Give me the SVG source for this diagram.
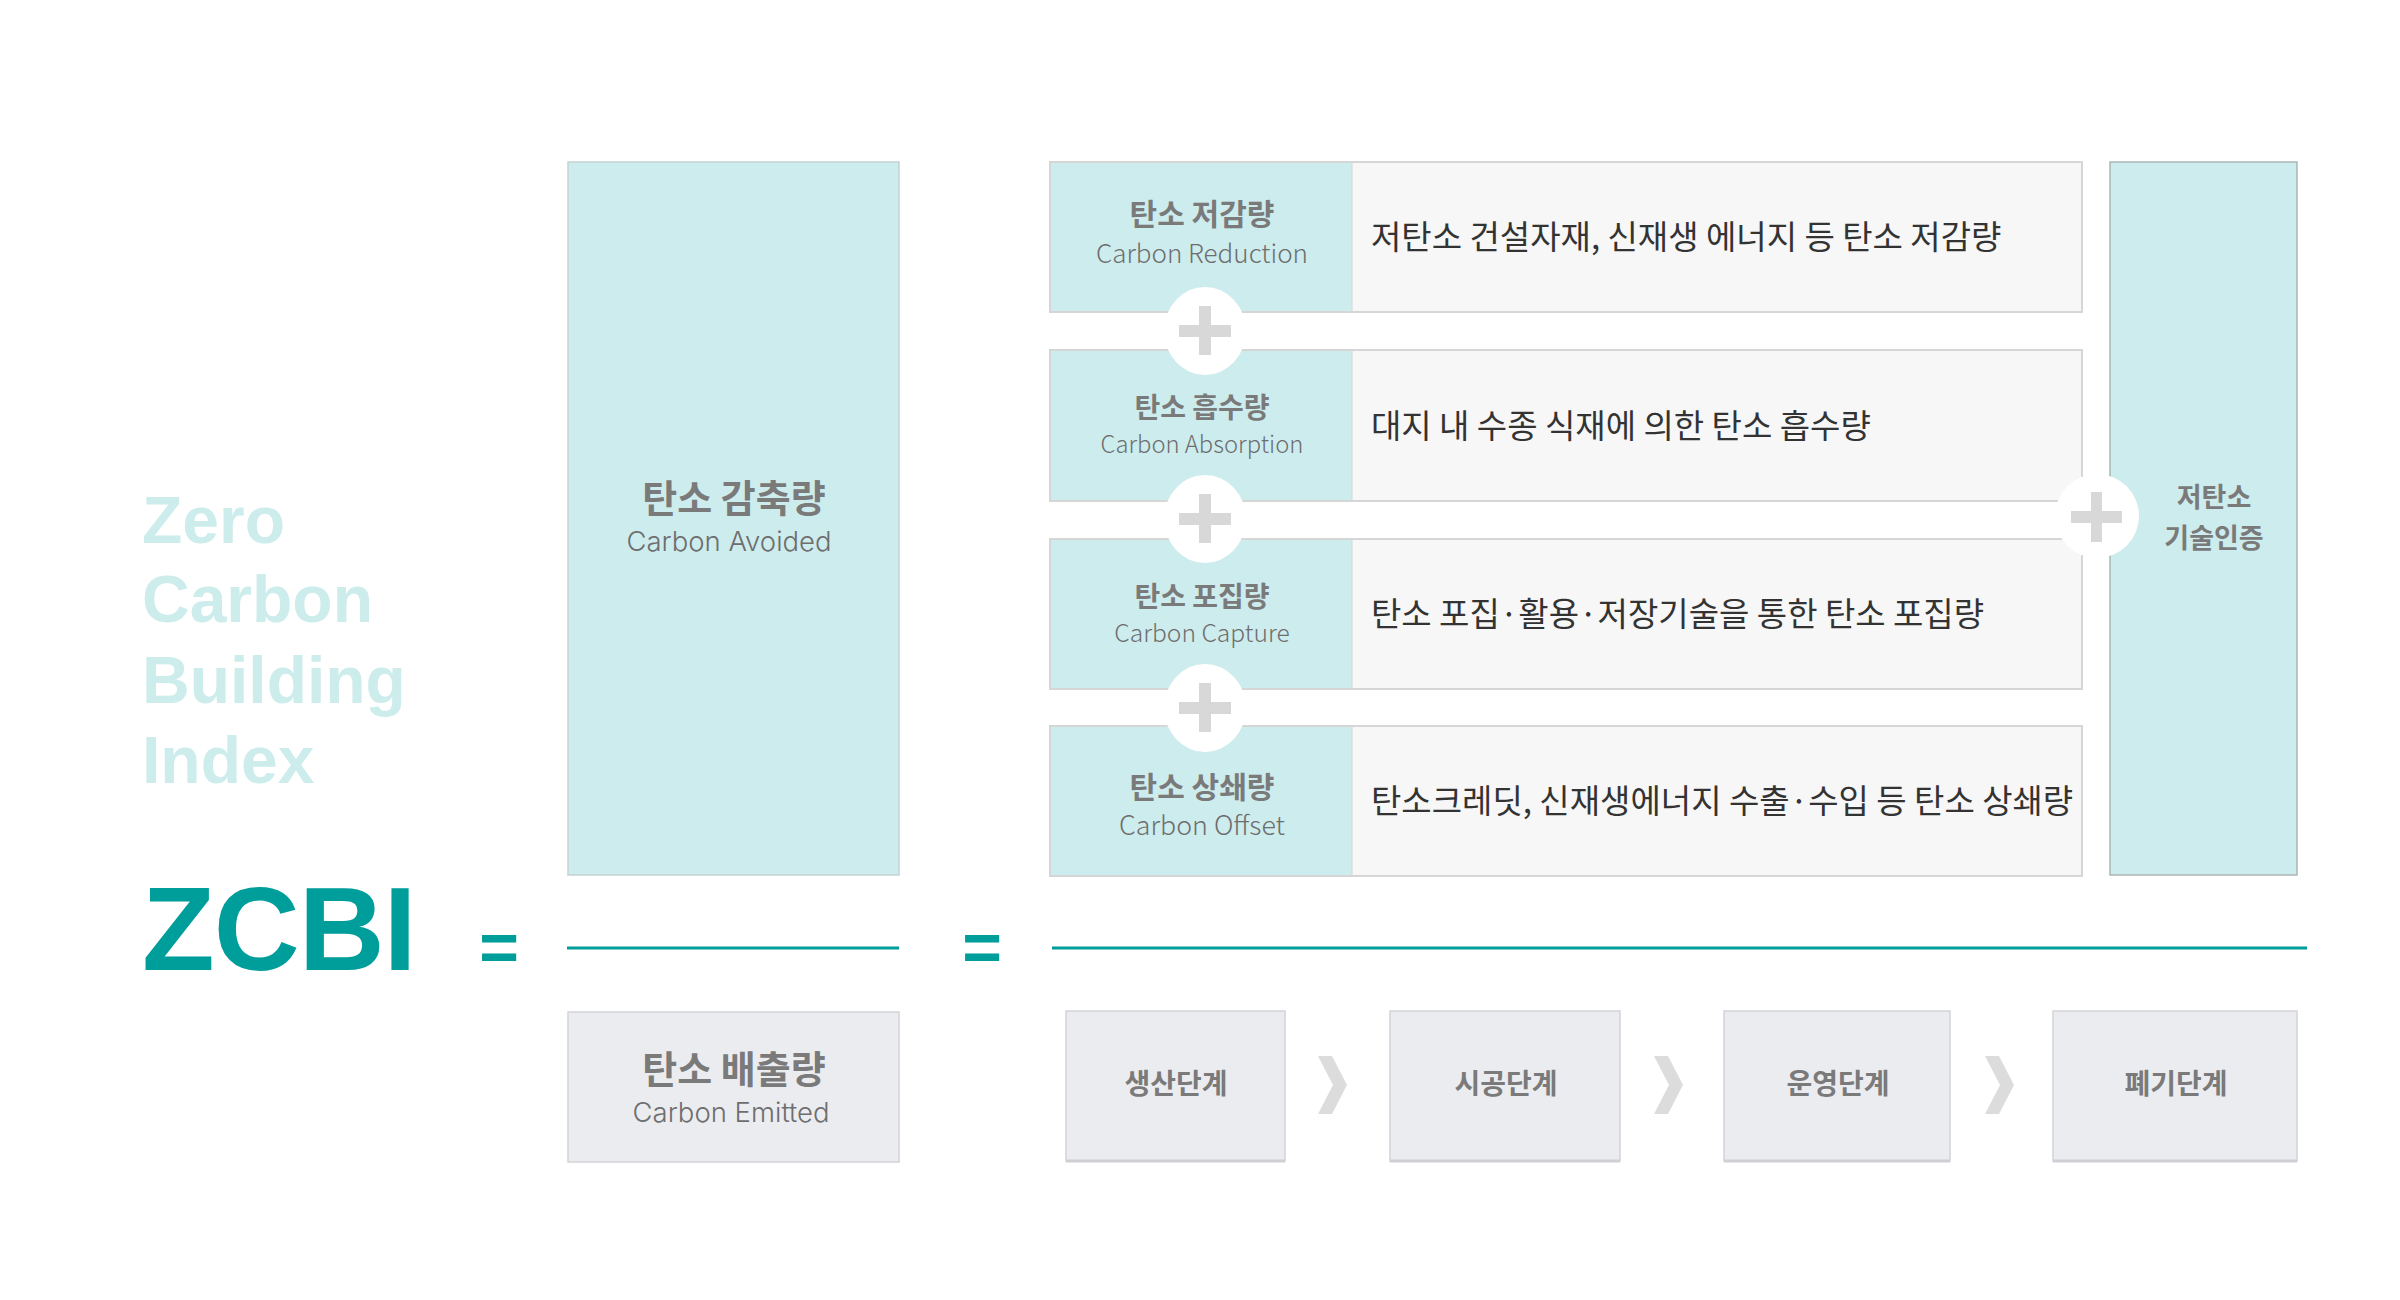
<svg xmlns="http://www.w3.org/2000/svg" width="2400" height="1300" viewBox="0 0 2400 1300">
  <defs>
    <style>
      .bg { fill: #ffffff; }
      .teal { fill: #cdeced; stroke: #c3d3d3; stroke-width: 1.5; }
      .tealcell { fill: #cdeced; }
      .desccell { fill: #f7f7f7; }
      .rowframe { fill: none; stroke: #d6d6d6; stroke-width: 2; }
      .stage { fill: #ebecf0; stroke: #d3d4d9; stroke-width: 1.5; }
      .stageshadow { stroke: #cfd0d5; stroke-width: 3; }
      .frac { stroke: #009e9a; stroke-width: 3; }
      .plusbg { fill: #ffffff; }
      .plus { fill: #d8d8d8; }
      .chev { fill: #dcdcdc; }
      .title { font-family: "Liberation Sans", Arial, sans-serif; font-weight: 700; fill: #cdecec; font-size: 66px; }
      .zcbi { font-family: "Liberation Sans", Arial, sans-serif; font-weight: 700; fill: #009e9a; font-size: 119px; letter-spacing: -1px; }
      .eq { font-family: "Liberation Sans", Arial, sans-serif; font-weight: 700; fill: #009e9a; font-size: 68px; text-anchor: middle; }
      .kb { font-family: "Noto Sans CJK KR", "Noto Sans KR", sans-serif; font-weight: 700; fill: #7a7a7a; text-anchor: middle; }
      .en { font-family: Inter, "Noto Sans", sans-serif; font-weight: 300; fill: #6e6e6e; text-anchor: middle; }
      .enr { font-family: "Noto Sans CJK KR", "Noto Sans KR", sans-serif; font-weight: 300; fill: #6e6e6e; text-anchor: middle; }
      .desc { font-family: "Noto Sans CJK KR", "Noto Sans KR", sans-serif; font-weight: 400; fill: #333333; font-size: 33px; }
    </style>
  </defs>
  <rect class="bg" x="0" y="0" width="2400" height="1300"/>

  <g id="title">
    <text class="title" x="142" y="543">Zero</text>
    <text class="title" x="142" y="622">Carbon</text>
    <text class="title" x="142" y="703">Building</text>
    <text class="title" x="142" y="783">Index</text>
  </g>

  <g id="zcbi">
    <text class="zcbi" x="142" y="970">ZCBI</text>
  </g>

  <g id="eq1"><text class="eq" x="499" y="971">=</text></g>
  <g id="eq2"><text class="eq" x="982" y="971">=</text></g>

  <g id="carbon-avoided">
    <rect class="teal" x="568" y="162" width="331" height="713"/>
    <text class="kb" x="734" y="512" font-size="38">탄소 감축량</text>
    <text class="en" x="729" y="551" font-size="27.5">Carbon Avoided</text>
  </g>

  <g id="carbon-emitted">
    <rect class="stage" x="568" y="1012" width="331" height="150"/>
    <text class="kb" x="734" y="1083" font-size="38">탄소 배출량</text>
    <text class="en" x="731" y="1122" font-size="27.5">Carbon Emitted</text>
  </g>

  <g id="row-reduction">
    <rect class="tealcell" x="1050" y="162" width="302" height="150"/>
    <rect class="desccell" x="1352" y="162" width="730" height="150"/>
    <rect class="rowframe" x="1050" y="162" width="1032" height="150"/>
    <line x1="1352" y1="162" x2="1352" y2="312" stroke="#d6d6d6" stroke-width="1"/>
    <text class="kb" x="1202" y="225" font-size="30">탄소 저감량</text>
    <text class="enr" x="1202" y="263" font-size="26">Carbon Reduction</text>
    <text class="desc" x="1371" y="249">저탄소 건설자재, 신재생 에너지 등 탄소 저감량</text>
  </g>

  <g id="row-absorption">
    <rect class="tealcell" x="1050" y="350" width="302" height="151"/>
    <rect class="desccell" x="1352" y="350" width="730" height="151"/>
    <rect class="rowframe" x="1050" y="350" width="1032" height="151"/>
    <line x1="1352" y1="350" x2="1352" y2="501" stroke="#d6d6d6" stroke-width="1"/>
    <text class="kb" x="1202" y="418" font-size="28">탄소 흡수량</text>
    <text class="enr" x="1202" y="453" font-size="23.8">Carbon Absorption</text>
    <text class="desc" x="1371" y="438">대지 내 수종 식재에 의한 탄소 흡수량</text>
  </g>

  <g id="row-capture">
    <rect class="tealcell" x="1050" y="539" width="302" height="150"/>
    <rect class="desccell" x="1352" y="539" width="730" height="150"/>
    <rect class="rowframe" x="1050" y="539" width="1032" height="150"/>
    <line x1="1352" y1="539" x2="1352" y2="689" stroke="#d6d6d6" stroke-width="1"/>
    <text class="kb" x="1202" y="607" font-size="28">탄소 포집량</text>
    <text class="enr" x="1202" y="642" font-size="24.6">Carbon Capture</text>
    <text class="desc" x="1371" y="626" font-size="32.3">탄소 포집·활용·저장기술을 통한 탄소 포집량</text>
  </g>

  <g id="row-offset">
    <rect class="tealcell" x="1050" y="726" width="302" height="150"/>
    <rect class="desccell" x="1352" y="726" width="730" height="150"/>
    <rect class="rowframe" x="1050" y="726" width="1032" height="150"/>
    <line x1="1352" y1="726" x2="1352" y2="876" stroke="#d6d6d6" stroke-width="1"/>
    <text class="kb" x="1202" y="798" font-size="30">탄소 상쇄량</text>
    <text class="enr" x="1202" y="835" font-size="26.8">Carbon Offset</text>
    <text class="desc" x="1371" y="813">탄소크레딧, 신재생에너지 수출·수입 등 탄소 상쇄량</text>
  </g>

  <g id="low-carbon-tech">
    <rect x="2110" y="162" width="187" height="713" fill="#cdeced" stroke="#aab6b6" stroke-width="1.5"/>
    <text class="kb" x="2214" y="507" font-size="27">저탄소</text>
    <text class="kb" x="2214" y="548" font-size="27">기술인증</text>
  </g>

  <g id="stage-production">
    <rect class="stage" x="1066" y="1011" width="219" height="150"/>
    <line class="stageshadow" x1="1066" y1="1161" x2="1285" y2="1161"/>
    <text class="kb" x="1176" y="1094" font-size="28">생산단계</text>
  </g>
  <g id="stage-construction">
    <rect class="stage" x="1390" y="1011" width="230" height="150"/>
    <line class="stageshadow" x1="1390" y1="1161" x2="1620" y2="1161"/>
    <text class="kb" x="1506" y="1094" font-size="28">시공단계</text>
  </g>
  <g id="stage-operation">
    <rect class="stage" x="1724" y="1011" width="226" height="150"/>
    <line class="stageshadow" x1="1724" y1="1161" x2="1950" y2="1161"/>
    <text class="kb" x="1838" y="1094" font-size="28">운영단계</text>
  </g>
  <g id="stage-disposal">
    <rect class="stage" x="2053" y="1011" width="244" height="150"/>
    <line class="stageshadow" x1="2053" y1="1161" x2="2297" y2="1161"/>
    <text class="kb" x="2176" y="1094" font-size="28">폐기단계</text>
  </g>

  <g id="connectors">
    <line class="frac" x1="567" y1="948" x2="899" y2="948"/>
    <line class="frac" x1="1052" y1="948" x2="2307" y2="948"/>

    <ellipse class="plusbg" cx="1205" cy="331" rx="41" ry="44"/>
    <rect class="plus" x="1179" y="325" width="52" height="12"/>
    <rect class="plus" x="1199" y="306" width="12" height="49"/>

    <ellipse class="plusbg" cx="1205" cy="519" rx="41" ry="44"/>
    <rect class="plus" x="1179" y="513" width="52" height="12"/>
    <rect class="plus" x="1199" y="494" width="12" height="49"/>

    <ellipse class="plusbg" cx="1205" cy="708" rx="41" ry="44"/>
    <rect class="plus" x="1179" y="702" width="52" height="12"/>
    <rect class="plus" x="1199" y="683" width="12" height="49"/>

    <circle class="plusbg" cx="2097" cy="516" r="42"/>
    <rect class="plus" x="2071" y="511" width="51" height="12"/>
    <rect class="plus" x="2091" y="492" width="11" height="50"/>

    <polygon class="chev" points="1318,1056 1332,1056 1347,1085 1332,1114 1318,1114 1333,1085"/>
    <polygon class="chev" points="1654,1056 1668,1056 1683,1085 1668,1114 1654,1114 1669,1085"/>
    <polygon class="chev" points="1985,1056 1999,1056 2014,1085 1999,1114 1985,1114 2000,1085"/>
  </g>
</svg>
